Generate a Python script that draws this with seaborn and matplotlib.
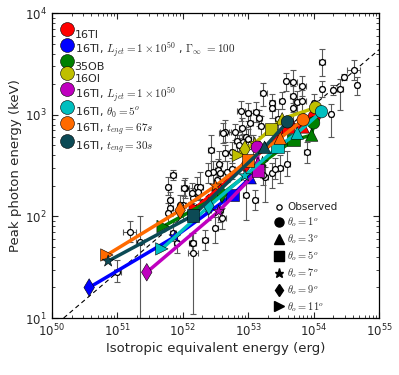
import numpy as np
import pandas as pd
import matplotlib
matplotlib.use('Agg')
import matplotlib.pyplot as plt
import seaborn as sns
from matplotlib.lines import Line2D

# ---------------- data (log10 values) ----------------
series_labels = [
    "16TI",
    "16TI, $L_{jet}=1\\times10^{50}$ , $\\Gamma_\\infty\\ =100$",
    "35OB",
    "16OI",
    "16TI, $L_{jet}=1\\times10^{50}$",
    "16TI, $\\theta_0=5^o$",
    "16TI, $t_{eng}=67s$",
    "16TI, $t_{eng}=30s$",
]
series_colors = ["#ff0000", "#0000ff", "#008000", "#bfbf00",
                 "#bf00bf", "#00bfbf", "#ff6a00", "#0c4a55"]
theta_values = [1, 3, 5, 7, 9, 11]
theta_markers = ["o", "^", "s", "*", "d", ">"]

# viewing angle order: 1, 3, 5, 7, 9, 11 deg (nan = not present)
red_logE = [54.01, 53.84, 53.61, 53.26, 52.96, 52.19]
red_logEp = [2.98, 2.88, 2.88, 2.67, 2.50, 2.08]
blue_logE = [53.14, 53.03, 52.76, 51.88, 50.57, np.nan]
blue_logEp = [2.455, 2.38, 2.21, 1.80, 1.30, np.nan]
green_logE = [54.00, 53.97, 53.69, 53.22, 52.60, 51.70]
green_logEp = [2.92, 2.80, 2.75, 2.53, 2.22, 1.90]
olive_logE = [54.03, 53.52, 53.35, 53.10, 52.95, 52.85]
olive_logEp = [3.07, 2.96, 2.86, 2.72, 2.66, 2.60]
purple_logE = [53.14, 53.15, 53.15, 52.55, 51.45, np.nan]
purple_logEp = [2.68, 2.52, 2.45, 2.05, 1.45, np.nan]
cyan_logE = [54.12, 53.75, 53.45, 52.95, 52.40, 51.68]
cyan_logEp = [3.03, 2.82, 2.68, 2.40, 2.10, 1.68]
orange_logE = [53.84, 53.49, 53.00, 52.50, 51.96, 50.84]
orange_logEp = [2.95, 2.77, 2.55, 2.30, 2.06, 1.62]
teal_logE = [53.60, 53.25, 52.16, 50.86, np.nan, np.nan]
teal_logEp = [2.93, 2.68, 2.01, 1.56, np.nan, np.nan]

series_logE = [red_logE, blue_logE, green_logE, olive_logE,
               purple_logE, cyan_logE, orange_logE, teal_logE]
series_logEp = [red_logEp, blue_logEp, green_logEp, olive_logEp,
                purple_logEp, cyan_logEp, orange_logEp, teal_logEp]

# observed bursts
obs_logE = [54.13, 54.61, 54.47, 54.40, 54.30, 54.66, 54.13, 53.83, 53.69, 53.58,
            53.23, 53.68, 53.74, 53.83, 53.51, 53.37, 53.37, 53.69, 54.01, 54.26,
            52.89, 53.00, 53.12, 53.17, 53.45, 53.03, 53.19, 53.90, 53.60, 53.49,
            53.37, 53.26, 53.41, 52.91, 52.80, 52.96, 52.83, 52.76, 52.92, 53.00,
            52.65, 52.86, 53.08, 52.65, 52.43, 52.56, 52.54, 52.47, 52.39, 52.57,
            52.68, 52.76, 51.85, 51.78, 52.04, 52.22, 52.27, 52.53, 53.22, 52.62,
            51.81, 51.81, 52.01, 52.16, 52.57, 52.60, 52.50, 52.34, 52.14, 51.85,
            52.96, 53.11, 52.39, 52.24, 51.19, 51.35, 51.00, 51.91, 52.16, 52.16,
            52.02, 52.14, 51.96, 51.78]
obs_logEp = [3.52, 3.44, 3.37, 3.25, 3.24, 3.29, 3.25, 3.28, 3.32, 3.33,
             3.21, 3.18, 3.13, 3.14, 3.14, 3.12, 3.07, 3.07, 3.12, 3.01,
             3.04, 3.02, 3.03, 2.97, 2.96, 2.92, 2.89, 2.63, 2.52, 2.48,
             2.43, 2.39, 2.47, 2.87, 2.83, 2.78, 2.74, 2.63, 2.73, 2.76,
             2.83, 2.70, 2.70, 2.62, 2.65, 2.52, 2.46, 2.44, 2.43, 2.43,
             2.44, 2.47, 2.41, 2.29, 2.28, 2.29, 2.29, 2.36, 2.41, 2.82,
             2.16, 2.08, 2.11, 2.18, 2.06, 1.98, 1.89, 1.77, 1.74, 1.84,
             2.21, 2.16, 2.06, 2.24, 1.85, 1.75, 1.45, 1.74, 1.64, 1.74,
             2.28, 2.23, 2.11, 2.03]
obs_err_lo = [0.14, 0.10, 0.03, 0.20, 0.05, 0.10, 0.08, 0.10, 0.20, 0.10,
              0.12, 0.15, 0.10, 0.12, 0.08, 0.08, 0.10, 0.15, 0.10, 0.23,
              0.10, 0.08, 0.10, 0.08, 0.10, 0.12, 0.10, 0.10, 0.12, 0.15,
              0.15, 0.25, 0.10, 0.10, 0.08, 0.10, 0.10, 0.10, 0.08, 0.10,
              0.10, 0.10, 0.10, 0.08, 0.20, 0.12, 0.10, 0.12, 0.10, 0.10,
              0.10, 0.10, 0.05, 0.08, 0.10, 0.12, 0.12, 0.10, 0.10, 0.10,
              0.08, 0.08, 0.15, 0.10, 0.12, 0.10, 0.15, 0.10, 0.10, 0.08,
              0.25, 0.10, 0.10, 0.08, 0.10, 0.75, 0.10, 0.10, 0.60, 0.10,
              0.08, 0.10, 0.10, 0.10]
obs_err_hi = [0.13, 0.10, 0.03, 0.10, 0.05, 0.08, 0.08, 0.10, 0.12, 0.08,
              0.10, 0.10, 0.10, 0.10, 0.08, 0.08, 0.08, 0.12, 0.08, 0.10,
              0.10, 0.10, 0.10, 0.08, 0.10, 0.10, 0.10, 0.10, 0.12, 0.12,
              0.10, 0.10, 0.10, 0.10, 0.08, 0.10, 0.10, 0.10, 0.08, 0.10,
              0.12, 0.10, 0.10, 0.08, 0.15, 0.12, 0.10, 0.10, 0.10, 0.10,
              0.10, 0.10, 0.05, 0.10, 0.10, 0.10, 0.15, 0.10, 0.10, 0.10,
              0.08, 0.08, 0.10, 0.10, 0.12, 0.10, 0.10, 0.10, 0.10, 0.10,
              0.15, 0.10, 0.10, 0.08, 0.10, 0.25, 0.12, 0.10, 0.10, 0.10,
              0.08, 0.10, 0.10, 0.10]
obs_xerr = [0.05, 0.10, 0.03, 0.05, 0.03, 0.03, 0.03, 0.06, 0.05, 0.03,
            0.05, 0.04, 0.04, 0.05, 0.04, 0.04, 0.04, 0.04, 0.04, 0.03,
            0.06, 0.04, 0.04, 0.04, 0.04, 0.04, 0.04, 0.04, 0.04, 0.04,
            0.04, 0.04, 0.04, 0.05, 0.10, 0.04, 0.04, 0.04, 0.04, 0.04,
            0.08, 0.04, 0.04, 0.04, 0.05, 0.04, 0.04, 0.04, 0.04, 0.04,
            0.04, 0.04, 0.04, 0.04, 0.06, 0.04, 0.04, 0.04, 0.04, 0.06,
            0.04, 0.04, 0.04, 0.04, 0.04, 0.06, 0.04, 0.04, 0.04, 0.04,
            0.04, 0.04, 0.04, 0.04, 0.10, 0.06, 0.05, 0.04, 0.08, 0.04,
            0.04, 0.04, 0.04, 0.04]

# reference (dashed) relation endpoints
ref_logE = [50.18, 55.0]
ref_logEp = [1.0, 3.64]

# ---------------- style ----------------
sns.set_style("ticks")
plt.rcParams["font.family"] = ["DejaVu Sans"]
plt.rcParams["mathtext.fontset"] = "cm"
plt.rcParams["xtick.direction"] = "in"
plt.rcParams["ytick.direction"] = "in"

fig = plt.figure(figsize=(3.99, 3.75), dpi=100)
ax = fig.add_axes([0.130, 0.152, 0.820, 0.813])
ax.set_xscale("log")
ax.set_yscale("log")

# observed
oE = 10 ** np.array(obs_logE)
oP = 10 ** np.array(obs_logEp)
ylo = oP - 10 ** (np.array(obs_logEp) - np.array(obs_err_lo))
yhi = 10 ** (np.array(obs_logEp) + np.array(obs_err_hi)) - oP
xlo = oE - 10 ** (np.array(obs_logE) - np.array(obs_xerr))
xhi = 10 ** (np.array(obs_logE) + np.array(obs_xerr)) - oE
ax.errorbar(oE, oP, yerr=[ylo, yhi], xerr=[xlo, xhi], fmt="none",
            ecolor="0.35", elinewidth=0.8, capsize=2, capthick=0.8, zorder=1)
sns.scatterplot(x=oE, y=oP, ax=ax, marker="o", s=18, color="white",
                edgecolor="k", linewidth=0.9, zorder=2, legend=False)

# reference line
sns.lineplot(x=10 ** np.array(ref_logE), y=10 ** np.array(ref_logEp), ax=ax,
             color="k", lw=0.8, ls=(0, (4, 3)), zorder=1.5)

# model series
mk = dict(zip(theta_values, theta_markers))
for i, (lx, ly, col) in enumerate(zip(series_logE, series_logEp, series_colors)):
    df = pd.DataFrame({"E": 10 ** np.array(lx), "Ep": 10 ** np.array(ly),
                       "theta": theta_values}).dropna()
    sns.lineplot(data=df, x="E", y="Ep", ax=ax, sort=False, estimator=None,
                 color=col, lw=2.5, zorder=3 + 2 * i)
    sns.scatterplot(data=df, x="E", y="Ep", style="theta", markers=mk, ax=ax,
                    color=col, s=80, edgecolor="k", linewidth=0.4,
                    zorder=4 + 2 * i, legend=False)

ax.set_xlim(1e50, 1e55)
ax.set_ylim(10, 1e4)
ax.tick_params(which="both", top=True, right=True, labelsize=8.5)
ax.tick_params(which="major", length=4, width=0.8)
ax.tick_params(which="minor", length=2, width=0.6)
for s in ax.spines.values():
    s.set_linewidth(0.9)
    s.set_color("k")
ax.set_xlabel("Isotropic equivalent energy (erg)", fontsize=9.5, labelpad=2)
ax.set_ylabel("Peak photon energy (keV)", fontsize=9.5, labelpad=2)

# legends
h1 = [ax.scatter([], [], marker="o", s=100, facecolor=c, edgecolor="k",
                 linewidth=0.4) for c in series_colors]
leg1 = ax.legend(h1, series_labels, loc="upper left", frameon=False,
                 fontsize=8, handlelength=1.0, handletextpad=0.2,
                 labelspacing=0.1, borderaxespad=0.0, borderpad=0.4,
                 scatterpoints=1, scatteryoffsets=[0.9], handleheight=1.0,
                 bbox_to_anchor=(0.015, 0.962))
ax.add_artist(leg1)

theta_labels = ["$\\theta_o=%d^o$" % t for t in theta_values]
h2 = [Line2D([], [], ls="none", marker="o", ms=3.8, mfc="white", mec="k", mew=0.9)]
h2 += [Line2D([], [], ls="none", marker=m, ms=6.5, color="k") for m in theta_markers]
leg2 = ax.legend(h2, ["Observed"] + theta_labels, loc="lower left",
                 frameon=False, fontsize=7.5, handlelength=1.0,
                 handletextpad=0.3, labelspacing=0.3, borderaxespad=0.0,
                 borderpad=0.4, bbox_to_anchor=(0.665, 0.0))

fig.savefig("out.png", dpi=100)
